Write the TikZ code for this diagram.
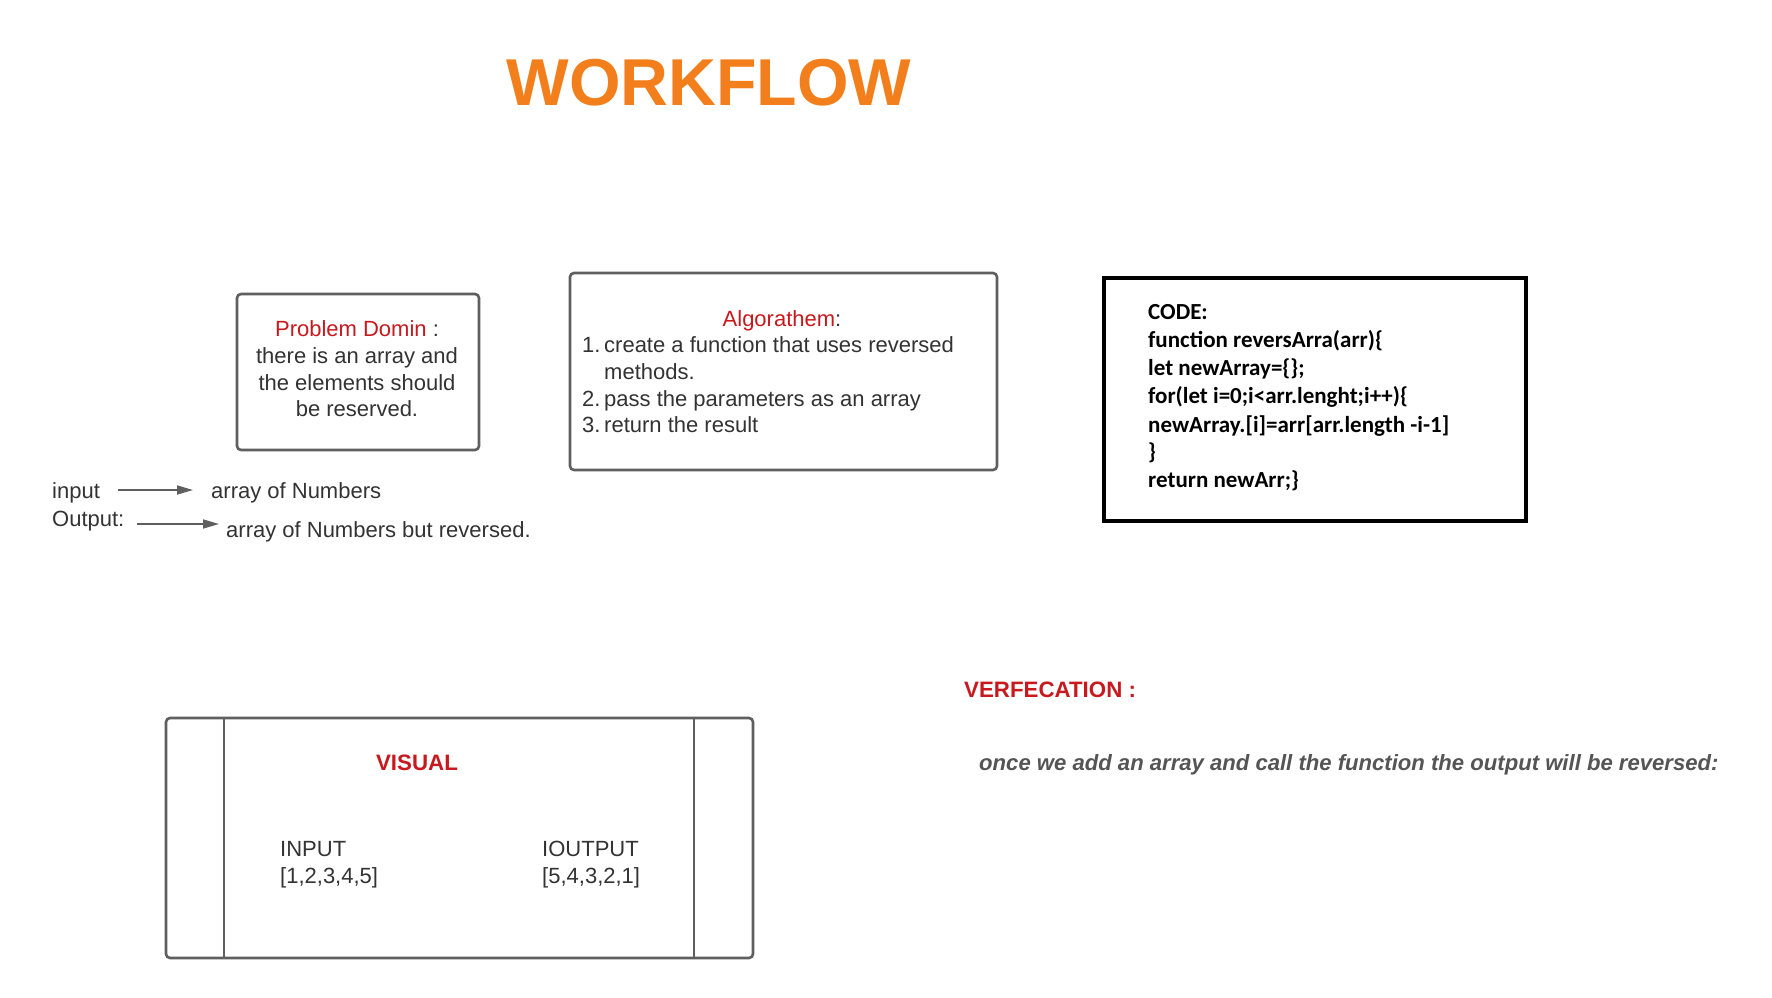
\documentclass[tikz,border=0pt]{standalone}
\usepackage{fontspec}
\setmainfont{Liberation Sans}
\newfontfamily\codefont{Carlito}
\usetikzlibrary{arrows.meta}
\definecolor{orng}{HTML}{F27F1B}
\definecolor{redt}{HTML}{C8191E}
\definecolor{txt}{HTML}{333333}
\definecolor{edgec}{HTML}{5F5F5F}
\definecolor{vtxt}{HTML}{555555}
\tikzset{
  body/.style={inner sep=0pt, text=txt, font=\fontsize{22}{26}\selectfont},
  redlbl/.style={inner sep=0pt, text=redt, font=\fontsize{22}{26}\selectfont},
  redbold/.style={inner sep=0pt, text=redt, font=\fontsize{22.3}{26}\selectfont\bfseries},
  codeln/.style={inner sep=0pt, anchor=base west, text=black, font=\fontsize{23}{27}\selectfont\codefont\bfseries},
  graybox/.style={draw=edgec, line width=2.6pt, rounded corners=4pt},
  arr/.style={draw=edgec, line width=1.6pt, -{Triangle[length=16pt,width=9pt]}}
}
\begin{document}
\begin{tikzpicture}[x=1pt,y=-1pt]
\useasboundingbox (0,0) rectangle (1772,998);
\fill[white] (0,0) rectangle (1772,998);

% title
\node[inner sep=0pt, anchor=base, text=orng, font=\fontsize{66.3}{70}\selectfont\bfseries] (title) at (709,105) {WORKFLOW};

% problem domain box
\draw[graybox] (237,294) rectangle (479,450);
\node[redlbl, anchor=base] (pd1) at (357,336) {Problem Domin\ \textcolor{txt}{:}};
\node[body, anchor=base] (pd2) at (357,363) {there is an array and};
\node[body, anchor=base] (pd3) at (357,390) {the elements should};
\node[body, anchor=base] (pd4) at (357,416) {be reserved.};

% algorithm box
\draw[graybox] (570,273) rectangle (997,470);
\node[redlbl, anchor=base] (al0) at (782,326) {Algorathem\textcolor{txt}{:}};
\node[body, anchor=base west] (n1) at (582,352) {1.};
\node[body, anchor=base west] (a1) at (604,352) {create a function that uses reversed};
\node[body, anchor=base west] (a1b) at (604,379) {methods.};
\node[body, anchor=base west] (n2) at (582,406) {2.};
\node[body, anchor=base west] (a2) at (604,406) {pass the parameters as an array};
\node[body, anchor=base west] (n3) at (582,432) {3.};
\node[body, anchor=base west] (a3) at (604,432) {return the result};

% code box
\draw[black, line width=4.8pt] (1104,278) rectangle (1526,521);
\node[codeln] (c1) at (1148,319) {CODE:};
\node[codeln] (c2) at (1148,347) {function reversArra(arr)\{};
\node[codeln] (c3) at (1148,375) {let newArray=\{\};};
\node[codeln] (c4) at (1148,403.5) {for(let i=0;i<arr.lenght;i++)\{};
\node[codeln] (c5) at (1148,432) {newArray.[i]=arr[arr.length -i-1]};
\node[codeln] (c6) at (1148,459) {\}};
\node[codeln] (c7) at (1148,487) {return newArr;\}};

% input / output
\node[body, anchor=base west] (inp) at (52,498) {input};
\node[body, anchor=base west] (inpv) at (211,498) {array of Numbers};
\coordinate (ia) at (118,490);
\coordinate (ib) at (193,490);
\draw[arr] (ia) -- (ib);
\node[body, anchor=base west] (outp) at (52,526) {Output:};
\node[body, anchor=base west] (outv) at (226,537) {array of Numbers but reversed.};
\coordinate (oa) at (137,524);
\coordinate (ob) at (219,524);
\draw[arr] (oa) -- (ob);

% visual box
\draw[graybox] (166,718) rectangle (753,958);
\draw[draw=edgec, line width=2.6pt] (224,718) -- (224,958);
\draw[draw=edgec, line width=2.6pt] (694,718) -- (694,958);
\node[redbold, anchor=base] (vis) at (417,770) {VISUAL};
\node[body, anchor=base west] (vi1) at (280,856) {INPUT};
\node[body, anchor=base west] (vi2) at (280,883) {[1,2,3,4,5]};
\node[body, anchor=base west] (vo1) at (542,856) {IOUTPUT};
\node[body, anchor=base west] (vo2) at (542,883) {[5,4,3,2,1]};

% verification
\node[redbold, anchor=base west] (ver) at (964,697) {VERFECATION :};
\node[inner sep=0pt, anchor=base west, text=vtxt, font=\fontsize{22.1}{26}\selectfont\bfseries\itshape] (vtx) at (979,770) {once we add an array and call the function the output will be reversed:};
\end{tikzpicture}
\end{document}
